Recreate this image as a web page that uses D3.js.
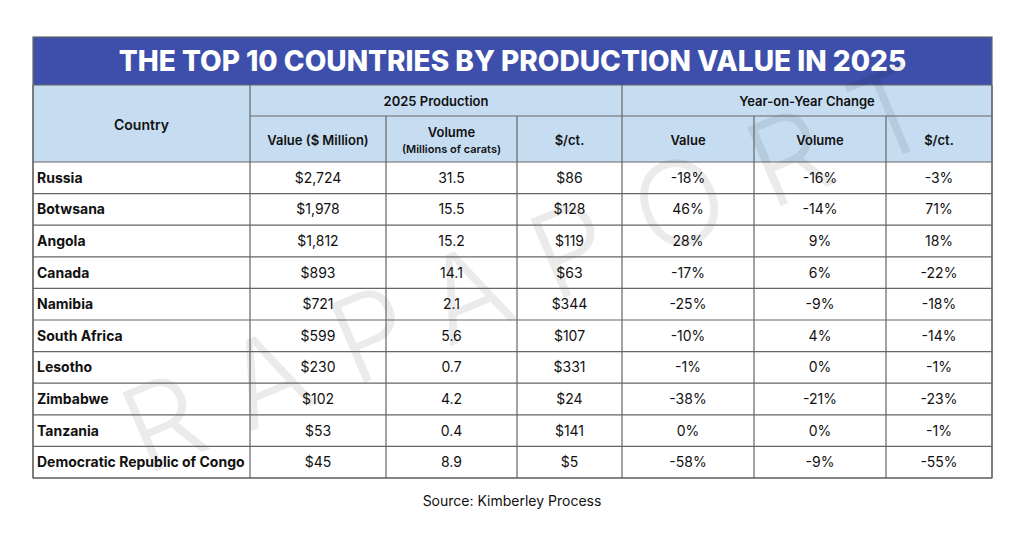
<!DOCTYPE html>
<html><head><meta charset="utf-8">
<script src="https://cdn.jsdelivr.net/npm/d3@7"></script>
<style>body{margin:0;background:#fff}</style></head>
<body><svg id="c" width="1024" height="535"></svg>
<script>
const countries=["Russia","Botwsana","Angola","Canada","Namibia","South Africa","Lesotho","Zimbabwe","Tanzania","Democratic Republic of Congo"];
const prodValue=["$2,724","$1,978","$1,812","$893","$721","$599","$230","$102","$53","$45"];
const prodVolume=["31.5","15.5","15.2","14.1","2.1","5.6","0.7","4.2","0.4","8.9"];
const prodPrice=["$86","$128","$119","$63","$344","$107","$331","$24","$141","$5"];
const yoyValue=["-18%","46%","28%","-17%","-25%","-10%","-1%","-38%","0%","-58%"];
const yoyVolume=["-16%","-14%","9%","6%","-9%","4%","0%","-21%","0%","-9%"];
const yoyPrice=["-3%","71%","18%","-22%","-18%","-14%","-1%","-23%","-1%","-55%"];
const cols=[countries,prodValue,prodVolume,prodPrice,yoyValue,yoyVolume,yoyPrice];
const svg=d3.select("#c");
const xs=[33,250,386,517,622,754,886,992];
const L=33,R=992,T=37,titleB=85,h1=116,h2=162,B=478;
const y=d3.scaleBand().domain(d3.range(10)).range([h2,B]);
const font="Inter, 'Open Sans', sans-serif";
svg.append("rect").attr("x",L).attr("y",T).attr("width",R-L).attr("height",titleB-T).attr("fill","#3d4fab");
svg.append("text").attr("x",(L+R)/2).attr("y",71).attr("text-anchor","middle").attr("fill","#fff")
 .attr("font-family",font).attr("font-weight",800).attr("font-size",28).text("THE TOP 10 COUNTRIES BY PRODUCTION VALUE IN 2025");
svg.append("rect").attr("x",L).attr("y",titleB).attr("width",R-L).attr("height",h2-titleB).attr("fill","#c6ddf1");
svg.append("text").attr("transform","translate(560,300) rotate(-23)").attr("text-anchor","middle")
 .attr("font-family",font).attr("font-size",118).attr("letter-spacing",36).attr("fill","#000").attr("fill-opacity",0.08).attr("font-weight",300).text("RAPAPORT");
const g=svg.append("g").attr("stroke","#666").attr("stroke-width",1.2);
[titleB,h2,...d3.range(1,10).map(i=>y(i)),B].forEach(v=>g.append("line").attr("x1",L).attr("x2",R).attr("y1",v).attr("y2",v));
g.append("line").attr("x1",xs[1]).attr("x2",R).attr("y1",h1).attr("y2",h1);
xs.forEach((x,i)=>{const top=(i==0||i==7||i==1||i==4)?titleB:h1;g.append("line").attr("x1",x).attr("x2",x).attr("y1",top).attr("y2",B);});
g.append("rect").attr("x",L).attr("y",T).attr("width",R-L).attr("height",B-T).attr("fill","none");
const t=(x,yy,s,o={})=>svg.append("text").attr("x",x).attr("y",yy).attr("text-anchor",o.a||"middle").attr("font-family",font)
 .attr("font-size",o.fs||14).attr("font-weight",o.w||400).attr("fill","#111").text(s);
t((xs[0]+xs[1])/2,130,"Country",{w:600});
t((xs[1]+xs[4])/2,106,"2025 Production",{w:600,fs:13});
t((xs[4]+xs[7])/2,106,"Year-on-Year Change",{w:600,fs:13});
const sub=["Value ($ Million)","","$/ct.","Value","Volume","$/ct."];
sub.forEach((s,i)=>{if(s)t((xs[i+1]+xs[i+2])/2,145,s,{w:600,fs:13});});
t((xs[2]+xs[3])/2,137,"Volume",{w:600,fs:13});
t((xs[2]+xs[3])/2,153,"(Millions of carats)",{w:600,fs:11});
cols.forEach((c,ci)=>c.forEach((v,ri)=>{
 const yy=y(ri)+y.bandwidth()/2+5;
 if(ci==0)t(L+4,yy,v,{a:"start",w:700,fs:14});
 else t((xs[ci]+xs[ci+1])/2,yy,v,{fs:14});
}));
t(512,506,"Source: Kimberley Process",{fs:14});
</script></body></html>
